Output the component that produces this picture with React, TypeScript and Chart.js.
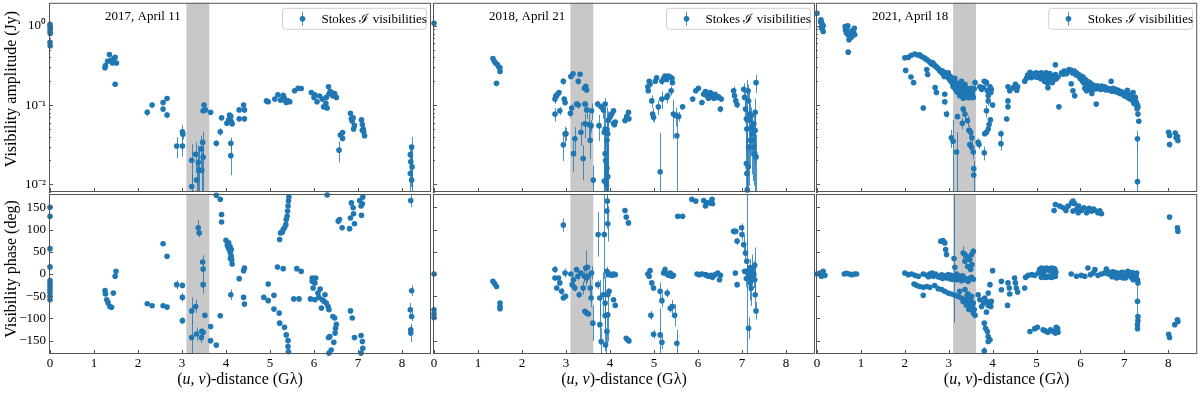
import { useEffect, useRef } from 'react';
import { Chart, registerables } from 'chart.js';

Chart.register(...registerables);

type Pt = [number, number, number]; // [uv-distance (Glambda), value, error]

const EPOCH_LABELS = ['2017, April 11', '2018, April 21', '2021, April 18'];
const LEGEND_LABEL = 'Stokes \u2110 visibilities';
const X_TICKS = [0, 1, 2, 3, 4, 5, 6, 7, 8];
const PHASE_TICKS = [-150, -100, -50, 0, 50, 100, 150];
const AMP_TICKS = [
  0.008, 0.009, 0.01, 0.02, 0.03, 0.04, 0.05, 0.06, 0.07, 0.08, 0.09,
  0.1, 0.2, 0.3, 0.4, 0.5, 0.6, 0.7, 0.8, 0.9, 1,
];
const BAND: [number, number] = [3.1, 3.62];
const X_RANGE: [number, number] = [-0.023, 8.66];
const AMP_RANGE: [number, number] = [0.008, 1.955];
const PHASE_RANGE: [number, number] = [-180, 180];

const AMP_2017: Pt[] = [
  [0, 1.05, 0], [0, 0.98, 0], [0.005, 0.92, 0], [0, 0.86, 0], [0.005, 0.8, 0], [0, 0.62, 0], [0.005, 0.56, 0],
  [1.25, 0.296, 0.01], [1.26, 0.316, 0], [1.31, 0.358, 0], [1.35, 0.434, 0], [1.38, 0.365, 0], [1.42, 0.34, 0],
  [1.45, 0.387, 0], [1.48, 0.4, 0], [1.51, 0.34, 0], [1.48, 0.183, 0],
  [2.21, 0.081, 0.008], [2.32, 0.1, 0.008], [2.57, 0.108, 0.008], [2.57, 0.089, 0.006], [2.66, 0.121, 0.008], [2.66, 0.075, 0.007],
  [2.88, 0.0304, 0.009], [3.01, 0.0304, 0.008], [3.01, 0.046, 0.01], [3.02, 0.043, 0.006],
  [3.22, 0.0201, 0.012], [3.22, 0.0094, 0.004], [3.31, 0.024, 0.01], [3.33, 0.0113, 0.008], [3.37, 0.019, 0.012],
  [3.39, 0.015, 0.012], [3.44, 0.028, 0.013], [3.47, 0.034, 0.012], [3.48, 0.022, 0.014], [3.45, 0.015, 0.01],
  [3.48, 0.085, 0], [3.5, 0.1, 0], [3.53, 0.087, 0], [3.65, 0.081, 0],
  [3.78, 0.033, 0.003], [3.87, 0.046, 0.005], [3.9, 0.069, 0.003], [4.02, 0.059, 0], [4.06, 0.065, 0], [4.08, 0.075, 0],
  [4.11, 0.072, 0], [4.14, 0.058, 0], [4.12, 0.062, 0], [4.11, 0.033, 0.006], [4.11, 0.023, 0.01], [4.3, 0.067, 0],
  [4.3, 0.087, 0], [4.4, 0.1, 0], [4.42, 0.087, 0.006], [4.42, 0.067, 0],
  [4.92, 0.113, 0], [4.96, 0.11, 0], [5.11, 0.119, 0], [5.18, 0.135, 0], [5.24, 0.115, 0], [5.3, 0.133, 0], [5.34, 0.115, 0],
  [5.37, 0.108, 0], [5.41, 0.113, 0], [5.45, 0.11, 0], [5.28, 0.12, 0], [5.32, 0.125, 0],
  [5.56, 0.152, 0], [5.64, 0.163, 0], [5.71, 0.162, 0],
  [5.94, 0.144, 0], [6.0, 0.125, 0], [6.02, 0.135, 0], [6.07, 0.11, 0], [6.13, 0.13, 0], [6.19, 0.119, 0], [6.22, 0.095, 0],
  [6.27, 0.105, 0], [6.3, 0.092, 0], [6.33, 0.17, 0], [6.34, 0.138, 0], [6.37, 0.148, 0], [6.43, 0.13, 0], [6.47, 0.14, 0],
  [6.51, 0.125, 0], [6.4, 0.144, 0], [6.28, 0.125, 0],
  [6.57, 0.027, 0.008], [6.6, 0.042, 0.004], [6.65, 0.045, 0.003], [6.65, 0.038, 0.003],
  [6.83, 0.079, 0.004], [6.85, 0.067, 0.004], [6.87, 0.0625, 0.004], [6.89, 0.069, 0], [6.9, 0.05, 0.004], [6.92, 0.055, 0],
  [7.08, 0.065, 0], [7.1, 0.057, 0], [7.12, 0.05, 0], [7.13, 0.046, 0], [7.15, 0.041, 0], [7.1, 0.048, 0],
  [8.19, 0.0237, 0.008], [8.2, 0.0193, 0.01], [8.22, 0.0295, 0.01], [8.23, 0.0166, 0.008], [8.19, 0.0137, 0.008], [8.22, 0.0113, 0.008],
];

const PHASE_2017: Pt[] = [
  [0, 150, 0], [0, 130, 0], [0, 57, 0], [0, 16, 0], [0, -15, 0], [0, -22, 0], [0, -28, 0], [0, -35, 0], [0, -42, 0], [0, -50, 0], [0, -58, 0],
  [1.25, -37, 0], [1.26, -45, 0], [1.29, -58, 0], [1.32, -65, 0], [1.36, -73, 0], [1.4, -75, 0], [1.44, -43, 0], [1.48, -5, 0], [1.5, 6, 0],
  [2.21, -67, 5], [2.32, -71.5, 0], [2.57, 68, 0], [2.66, 40, 0], [2.57, -71.5, 0], [2.66, -74.5, 0],
  [2.88, -24, 10], [3.01, -25.6, 6], [3.01, -52.7, 10], [3.01, -105, 8],
  [3.22, -83, 30], [3.22, -143, 40], [3.31, -73, 15], [3.33, -135, 15], [3.37, 104, 18], [3.39, 92.5, 10], [3.44, -143, 12],
  [3.47, 27, 15], [3.48, 11, 15], [3.48, -24, 20], [3.52, -93, 0], [3.48, -131, 8], [3.45, -129, 6],
  [3.65, -118, 0], [3.65, -150, 0], [3.78, -160, 0], [3.78, 177, 0], [3.87, 168, 0], [3.9, 134, 0], [3.9, 117, 0], [3.87, -94, 6],
  [4.0, 76, 0], [4.03, 65, 0], [4.05, 60, 0], [4.07, 55, 0], [4.09, 62, 0], [4.1, 47, 0], [4.12, 40, 0], [4.13, 32, 0],
  [4.14, 22.6, 0], [4.06, 70, 0], [4.12, 55, 0], [4.1, 35, 0],
  [4.11, -46.6, 12], [4.3, -10.5, 0], [4.4, 7.5, 0], [4.42, 13.5, 0], [4.4, -52.7, 0], [4.42, -67.7, 0],
  [4.86, -52.7, 0], [4.96, -22.6, 0], [4.96, -60, 0], [5.09, -48, 0], [5.09, -79, 0], [5.17, 15.8, 0], [5.21, -88, 0],
  [5.22, -110.6, 0], [5.3, 12, 0], [5.33, -120, 0], [5.37, -137, 0], [5.41, -150, 0], [5.41, -163, 0], [5.42, -175, 0],
  [5.22, 77.5, 0], [5.24, 92.5, 0], [5.28, 94, 0], [5.33, 104, 0], [5.36, 111, 0], [5.37, 122.6, 0], [5.39, 130, 0],
  [5.4, 141.5, 0], [5.41, 153, 0], [5.42, 164, 0], [5.43, 173, 0], [5.3, 100, 0],
  [5.54, -56, 0], [5.66, -56, 0], [5.61, 12, 0], [5.71, 6, 0],
  [5.92, -56, 0], [6.02, -58, 0], [5.96, -9, 0], [5.98, -31.6, 0], [5.96, -16.5, 0], [6.04, -9, 0], [6.02, -20, 0], [6.09, -43, 0],
  [6.11, -52.7, 0], [6.14, -34, 0], [6.19, -58, 0], [6.23, -61.7, 0], [6.25, -46.6, 0], [6.28, -65.5, 0], [6.32, -73, 0],
  [6.34, -80.5, 0], [6.17, -76.7, 0], [6.43, -95.6, 0], [6.47, -99, 0], [6.51, -113, 0], [6.49, -122, 0], [6.48, -133, 0],
  [6.36, -141, 0], [6.33, -143, 0], [6.45, -153.5, 0], [6.39, -171, 0], [6.34, -178, 0], [6.3, 177.6, 0],
  [6.55, 119, 8], [6.58, 122.6, 0], [6.64, 104, 6], [6.83, 126, 0], [6.85, 160, 0], [6.89, 149, 0], [6.9, 135.5, 0], [6.92, 113, 0],
  [6.81, 102, 0], [7.04, 165.5, 0], [7.07, 153, 0], [7.1, 158, 0], [7.11, 173, 0], [7.08, 132, 0],
  [6.83, -83, 0], [6.87, -99, 0], [6.92, -143, 5], [7.07, -138.5, 0], [7.1, -152, 0], [7.11, -167, 0], [7.07, -178, 0],
  [8.2, 165.5, 15], [8.22, -37.6, 12], [8.19, -80.5, 15], [8.22, -95.6, 10], [8.2, -125.7, 12], [8.2, -133, 20],
];

const AMP_2018: Pt[] = [
  [0, 1.08, 0],
  [1.34, 0.387, 0], [1.37, 0.358, 0], [1.4, 0.34, 0], [1.44, 0.325, 0], [1.47, 0.305, 0], [1.5, 0.296, 0], [1.5, 0.266, 0], [1.42, 0.188, 0],
  [2.75, 0.077, 0.015], [2.75, 0.119, 0.015], [2.77, 0.131, 0.01], [2.81, 0.137, 0.015], [2.84, 0.144, 0], [2.86, 0.085, 0.01],
  [2.94, 0.2, 0.02], [2.96, 0.119, 0.01], [2.98, 0.108, 0.01], [2.94, 0.0316, 0.012], [2.98, 0.0434, 0.01], [3.0, 0.0434, 0.008],
  [3.1, 0.079, 0.01], [3.13, 0.092, 0.01], [3.11, 0.23, 0], [3.16, 0.248, 0], [3.17, 0.0244, 0.01], [3.2, 0.0376, 0.015],
  [3.24, 0.103, 0.01], [3.28, 0.1, 0.01], [3.28, 0.2, 0.02], [3.32, 0.245, 0], [3.34, 0.0455, 0.015], [3.39, 0.0212, 0.01],
  [3.43, 0.058, 0.02], [3.42, 0.163, 0.01], [3.45, 0.173, 0], [3.47, 0.155, 0.01], [3.43, 0.103, 0.01], [3.47, 0.087, 0.02],
  [3.52, 0.057, 0.02], [3.55, 0.036, 0.015], [3.57, 0.055, 0.01], [3.58, 0.085, 0.02], [3.62, 0.0113, 0.006],
  [3.72, 0.103, 0.01], [3.75, 0.055, 0.02], [3.8, 0.095, 0.01], [3.85, 0.087, 0.02], [3.89, 0.103, 0.02], [3.87, 0.0455, 0.04],
  [3.89, 0.05, 0.04], [3.93, 0.049, 0.045], [3.95, 0.0434, 0.04], [3.93, 0.036, 0.03], [3.89, 0.0244, 0.02], [3.9, 0.02, 0.02],
  [3.93, 0.016, 0.02], [3.95, 0.0125, 0.02], [3.87, 0.011, 0.01], [3.92, 0.0099, 0.01], [3.96, 0.0645, 0.01], [4.0, 0.07, 0.005],
  [4.04, 0.077, 0], [4.08, 0.085, 0], [4.1, 0.0566, 0], [4.12, 0.061, 0], [4.08, 0.059, 0],
  [4.34, 0.0637, 0], [4.38, 0.0715, 0], [4.42, 0.081, 0], [4.43, 0.067, 0],
  [4.86, 0.17, 0.01], [4.87, 0.152, 0.01], [4.89, 0.2, 0.01], [4.91, 0.183, 0], [4.95, 0.113, 0.02], [4.97, 0.077, 0.015],
  [4.99, 0.07, 0.01], [5.03, 0.2, 0.01], [5.06, 0.221, 0], [5.1, 0.095, 0.02], [5.14, 0.0144, 0.03], [5.18, 0.119, 0.03],
  [5.18, 0.2, 0.02], [5.22, 0.218, 0.01], [5.25, 0.232, 0], [5.29, 0.21, 0], [5.29, 0.125, 0.02], [5.33, 0.232, 0],
  [5.37, 0.226, 0], [5.41, 0.218, 0], [5.42, 0.192, 0.01], [5.39, 0.152, 0.02], [5.31, 0.131, 0.01], [5.44, 0.077, 0.04],
  [5.5, 0.0735, 0.02], [5.52, 0.041, 0.04], [5.56, 0.072, 0.01], [5.65, 0.095, 0],
  [5.88, 0.119, 0], [5.95, 0.152, 0], [6.01, 0.163, 0], [6.09, 0.108, 0], [6.13, 0.137, 0], [6.17, 0.148, 0], [6.2, 0.131, 0],
  [6.24, 0.122, 0], [6.28, 0.144, 0], [6.32, 0.131, 0], [6.36, 0.122, 0], [6.39, 0.137, 0], [6.43, 0.125, 0], [6.47, 0.127, 0],
  [6.51, 0.089, 0.008], [6.53, 0.119, 0], [6.3, 0.14, 0], [6.22, 0.138, 0], [6.4, 0.13, 0],
  [6.81, 0.152, 0.02], [6.83, 0.131, 0.01], [6.86, 0.113, 0.01], [6.89, 0.101, 0.01], [7.04, 0.158, 0.03], [7.06, 0.125, 0.03],
  [7.08, 0.089, 0.03], [7.1, 0.067, 0.04], [7.11, 0.05, 0.04], [7.1, 0.0183, 0.02], [7.11, 0.0137, 0.02], [7.12, 0.0085, 0.2],
  [7.14, 0.152, 0.03], [7.15, 0.113, 0.03], [7.17, 0.077, 0.03], [7.19, 0.0637, 0.04], [7.21, 0.0526, 0.03], [7.23, 0.0434, 0.03],
  [7.24, 0.036, 0.025], [7.27, 0.0296, 0.02], [7.29, 0.0244, 0.02], [7.3, 0.081, 0.04], [7.32, 0.192, 0.05], [7.19, 0.036, 0.02],
  [7.15, 0.0296, 0.02], [7.27, 0.058, 0.03], [7.21, 0.0735, 0.02], [7.3, 0.0478, 0.03], [7.14, 0.0166, 0.015], [7.32, 0.0222, 0.02],
];

const PHASE_2018: Pt[] = [
  [0, 0, 0], [0, -80.5, 0], [0, -90, 0], [0, -98, 0],
  [1.34, -16.5, 0], [1.38, -22, 0], [1.42, -28, 0], [1.5, -65.5, 0], [1.5, -73, 0], [1.5, -78, 0],
  [2.75, 10, 8], [2.75, -9, 5], [2.79, -31.6, 6], [2.83, -9, 0], [2.86, -20, 0], [2.9, -39, 8], [2.94, -54, 6], [2.94, 110, 15],
  [2.98, 2.3, 10], [2.99, -50, 6],
  [3.11, 0, 0], [3.14, -24, 8], [3.17, -12.8, 10], [3.2, -31.6, 8], [3.24, 9.8, 5], [3.27, -5, 10], [3.3, -46.6, 8], [3.34, 2.3, 5],
  [3.39, -31.6, 15], [3.42, -5, 15], [3.45, 13.5, 40], [3.47, -9, 10], [3.49, 15, 0], [3.51, -5, 8], [3.43, -84, 5], [3.47, -88, 0],
  [3.51, -90, 0], [3.55, -31.6, 20], [3.57, -54, 20], [3.58, 2.3, 15], [3.61, -110.6, 40],
  [3.72, -24, 10], [3.73, 89, 50], [3.77, -54, 40], [3.77, -114, 45], [3.8, -152, 30], [3.85, -46.6, 50], [3.87, 89, 100],
  [3.89, -65.5, 60], [3.89, -94, 80], [3.9, -159.5, 30], [3.93, 6, 10], [3.93, 141.5, 40], [3.94, 164, 30], [3.95, 113, 40],
  [3.95, -92, 60], [3.96, -1.5, 0], [4.0, 0, 0], [4.04, -3, 0], [4.08, 0, 0], [4.12, -1.5, 0], [3.98, -39, 0], [3.95, -46.6, 10],
  [4.08, -58, 0], [4.12, -70.7, 0], [3.93, -129, 30],
  [4.34, 143, 0], [4.37, 128, 0], [4.42, 115, 0], [4.37, -144.5, 0], [4.4, -148, 0], [4.43, -150.5, 0],
  [4.86, 0, 0], [4.89, -5, 0], [4.91, 7.5, 0], [4.95, -20, 0], [4.99, -31.6, 5], [4.93, -93, 10], [4.99, -135.5, 10],
  [5.14, -39, 20], [5.14, -137, 60], [5.18, -60, 15], [5.18, -153.5, 15], [5.22, 2.3, 0], [5.25, 9.8, 8], [5.29, 0, 0],
  [5.33, -3, 0], [5.37, 2.3, 0], [5.41, -5, 0], [5.3, -43, 10], [5.37, -77, 10], [5.42, -73, 15], [5.47, -93, 25],
  [5.52, -155.7, 30], [5.44, -3, 0],
  [5.54, 130, 0], [5.65, 130, 0], [5.86, 168, 0], [5.95, 164, 0], [6.13, 165.5, 0], [6.17, 153, 0], [6.2, 160, 0], [6.28, 160, 0],
  [6.32, 168, 0], [6.33, 158, 0], [6.3, 163, 0],
  [5.98, 0, 0], [6.03, -1.5, 0], [6.09, 0, 0], [6.17, -1.5, 0], [6.2, -3, 0], [6.24, -5, 0], [6.3, -3, 0], [6.33, -7.5, 0],
  [6.39, -1.5, 0], [6.45, 2.3, 0], [6.49, -12.8, 0], [6.51, -3, 0],
  [6.81, 96, 8], [6.86, 96, 0], [6.89, 74, 8], [6.85, 2, 0], [6.89, -24, 6], [6.99, 104, 10], [7.0, 89, 15], [7.04, 66, 20],
  [7.08, 47, 20], [7.11, 28.6, 20], [7.11, 6, 200], [7.14, 0, 20], [7.17, -9, 30], [7.19, -20, 40], [7.21, -31.6, 40],
  [7.23, 13.5, 30], [7.27, -1.5, 30], [7.29, -12.8, 40], [7.3, -46.6, 30], [7.32, -83, 20], [7.15, -122, 25], [7.06, 6, 0],
  [7.1, -10, 20], [7.19, 13.5, 20], [7.24, 2.3, 20], [7.29, 19.6, 40], [7.21, -3, 20],
];

const AMP_2021: Pt[] = [
  [0, 1.44, 0], [0.09, 1.19, 0], [0.1, 1.1, 0], [0.12, 1.05, 0], [0.14, 1.0, 0], [0.1, 0.95, 0], [0.14, 0.85, 0], [0.08, 1.12, 0], [0.12, 0.92, 0],
  [0.64, 0.98, 0], [0.65, 0.89, 0], [0.67, 0.81, 0], [0.7, 1.0, 0], [0.71, 0.77, 0], [0.75, 0.74, 0], [0.77, 0.81, 0], [0.8, 0.865, 0],
  [0.85, 0.93, 0], [0.86, 0.77, 0], [0.71, 0.466, 0], [0.83, 0.85, 0], [0.73, 0.67, 0], [0.68, 0.92, 0], [0.78, 0.72, 0],
  [2.0, 0.395, 0], [2.08, 0.4, 0], [2.15, 0.425, 0], [2.23, 0.442, 0], [2.3, 0.425, 0], [2.38, 0.41, 0], [2.44, 0.395, 0],
  [2.5, 0.377, 0], [2.55, 0.358, 0], [2.61, 0.331, 0], [2.67, 0.318, 0], [2.72, 0.3, 0], [2.78, 0.281, 0], [2.82, 0.263, 0],
  [2.87, 0.249, 0], [2.93, 0.24, 0], [2.99, 0.221, 0], [3.05, 0.2, 0], [3.1, 0.186, 0], [3.16, 0.174, 0], [3.22, 0.163, 0],
  [3.28, 0.154, 0], [3.33, 0.148, 0], [3.38, 0.14, 0], [3.44, 0.135, 0], [3.5, 0.131, 0], [3.56, 0.125, 0], [3.25, 0.174, 0],
  [3.37, 0.183, 0], [3.43, 0.158, 0], [3.52, 0.163, 0], [3.29, 0.2, 0], [2.99, 0.256, 0], [3.14, 0.218, 0], [3.18, 0.15, 0],
  [3.25, 0.131, 0], [3.33, 0.122, 0], [3.6, 0.192, 0.02], [2.64, 0.34, 0], [2.7, 0.31, 0], [2.76, 0.29, 0], [2.85, 0.27, 0],
  [2.9, 0.23, 0], [2.96, 0.235, 0], [3.02, 0.21, 0], [3.08, 0.205, 0], [3.12, 0.19, 0], [3.2, 0.178, 0], [3.3, 0.165, 0],
  [3.4, 0.15, 0], [3.46, 0.145, 0], [3.54, 0.14, 0], [3.35, 0.135, 0], [3.48, 0.125, 0],
  [2.62, 0.345, 0], [2.66, 0.325, 0], [2.74, 0.295, 0], [2.8, 0.27, 0], [2.86, 0.255, 0], [2.9, 0.26, 0], [2.95, 0.245, 0],
  [3.0, 0.225, 0], [3.04, 0.23, 0], [3.08, 0.19, 0], [3.12, 0.2, 0], [3.15, 0.185, 0], [3.18, 0.19, 0], [3.21, 0.17, 0],
  [3.24, 0.16, 0], [3.27, 0.17, 0], [3.3, 0.15, 0], [3.34, 0.16, 0], [3.36, 0.15, 0], [3.39, 0.165, 0], [3.42, 0.145, 0],
  [3.45, 0.16, 0], [3.47, 0.14, 0], [3.5, 0.15, 0], [3.53, 0.14, 0], [3.58, 0.16, 0], [3.45, 0.125, 0], [3.4, 0.128, 0],
  [3.3, 0.14, 0], [3.2, 0.145, 0], [3.15, 0.16, 0], [3.1, 0.17, 0], [2.34, 0.43, 0], [2.47, 0.385, 0], [2.58, 0.345, 0],
  [2.02, 0.274, 0], [2.14, 0.226, 0], [2.2, 0.192, 0], [2.5, 0.281, 0], [2.52, 0.243, 0], [2.69, 0.166, 0], [2.72, 0.144, 0],
  [2.91, 0.137, 0], [2.91, 0.11, 0.01], [2.95, 0.077, 0.008], [2.42, 0.092, 0.008], [3.06, 0.0387, 0.01], [3.1, 0.035, 0.03],
  [3.18, 0.0256, 0.02], [3.2, 0.0715, 0], [3.31, 0.059, 0.01], [3.33, 0.089, 0.01], [3.37, 0.077, 0.01], [3.43, 0.0637, 0.01],
  [3.46, 0.048, 0.008], [3.5, 0.0455, 0.006], [3.53, 0.0387, 0.005], [3.48, 0.0318, 0.005], [3.52, 0.0296, 0.005],
  [3.56, 0.0256, 0.005], [3.57, 0.0158, 0.004], [3.57, 0.0131, 0.005], [3.67, 0.034, 0.004], [3.69, 0.0318, 0.004],
  [3.81, 0.025, 0.005], [3.82, 0.0434, 0], [3.86, 0.0455, 0], [3.9, 0.05, 0], [3.92, 0.057, 0], [3.95, 0.065, 0],
  [4.0, 0.1, 0.008], [3.9, 0.113, 0.015], [3.86, 0.085, 0.015], [3.9, 0.131, 0], [3.79, 0.166, 0], [3.86, 0.192, 0.02],
  [3.94, 0.17, 0], [3.97, 0.158, 0], [3.71, 0.17, 0], [3.75, 0.158, 0], [3.81, 0.2, 0], [3.88, 0.152, 0], [3.96, 0.144, 0],
  [4.19, 0.0434, 0.005], [4.19, 0.0326, 0.006], [4.32, 0.0668, 0.005], [4.35, 0.113, 0.005], [4.35, 0.095, 0.005],
  [4.35, 0.17, 0], [4.39, 0.152, 0], [4.47, 0.166, 0], [4.52, 0.183, 0], [4.55, 0.154, 0], [4.57, 0.17, 0],
  [4.73, 0.2, 0], [4.77, 0.218, 0], [4.82, 0.232, 0], [4.85, 0.26, 0], [4.88, 0.221, 0], [4.94, 0.24, 0], [4.99, 0.256, 0],
  [5.04, 0.24, 0], [5.07, 0.221, 0], [5.11, 0.256, 0], [5.15, 0.232, 0], [5.19, 0.249, 0], [5.23, 0.218, 0], [5.26, 0.24, 0],
  [5.3, 0.2, 0], [5.33, 0.226, 0], [5.36, 0.192, 0], [5.4, 0.21, 0], [5.43, 0.243, 0], [5.43, 0.322, 0], [5.26, 0.166, 0],
  [5.49, 0.226, 0], [5.51, 0.095, 0], [5.0, 0.225, 0], [5.1, 0.215, 0], [5.2, 0.205, 0], [5.3, 0.25, 0], [5.38, 0.235, 0],
  [4.8, 0.24, 0], [4.9, 0.25, 0], [4.95, 0.23, 0], [5.05, 0.25, 0], [5.12, 0.235, 0], [5.17, 0.22, 0], [5.22, 0.255, 0],
  [5.28, 0.23, 0], [5.35, 0.21, 0], [5.41, 0.225, 0], [5.45, 0.215, 0], [5.18, 0.2, 0], [5.25, 0.19, 0], [5.32, 0.205, 0],
  [5.57, 0.256, 0], [5.63, 0.268, 0], [5.68, 0.249, 0], [5.74, 0.281, 0], [5.79, 0.274, 0], [5.86, 0.268, 0], [5.91, 0.256, 0],
  [5.96, 0.243, 0], [6.01, 0.232, 0], [6.06, 0.226, 0], [6.11, 0.21, 0], [6.16, 0.2, 0], [6.21, 0.192, 0], [6.25, 0.183, 0],
  [6.31, 0.174, 0], [6.36, 0.17, 0], [6.4, 0.162, 0], [6.46, 0.158, 0], [5.79, 0.186, 0], [5.83, 0.152, 0], [5.87, 0.131, 0],
  [6.1, 0.163, 0], [6.14, 0.152, 0], [6.21, 0.158, 0], [6.26, 0.14, 0], [6.36, 0.103, 0], [6.0, 0.215, 0], [6.05, 0.2, 0],
  [6.15, 0.18, 0], [6.3, 0.16, 0], [5.6, 0.245, 0], [5.7, 0.26, 0], [5.82, 0.255, 0], [5.9, 0.24, 0], [5.98, 0.225, 0],
  [6.04, 0.215, 0], [6.08, 0.19, 0], [6.12, 0.195, 0], [6.18, 0.185, 0], [6.24, 0.17, 0], [6.28, 0.18, 0], [6.34, 0.16, 0],
  [6.38, 0.175, 0], [6.44, 0.165, 0],
  [6.48, 0.174, 0], [6.55, 0.17, 0], [6.61, 0.163, 0], [6.67, 0.154, 0], [6.7, 0.2, 0], [6.74, 0.163, 0], [6.8, 0.158, 0],
  [6.86, 0.154, 0], [6.92, 0.148, 0], [6.97, 0.144, 0], [7.02, 0.14, 0], [7.07, 0.154, 0], [7.1, 0.137, 0], [7.13, 0.131, 0],
  [7.16, 0.125, 0], [7.2, 0.119, 0], [7.24, 0.113, 0], [7.27, 0.108, 0], [7.3, 0.1, 0], [7.31, 0.094, 0], [7.31, 0.077, 0],
  [7.33, 0.0625, 0.005], [7.3, 0.0376, 0.01], [7.3, 0.0108, 0.03], [7.08, 0.125, 0], [7.2, 0.144, 0], [7.25, 0.125, 0],
  [7.0, 0.13, 0], [7.12, 0.12, 0], [7.22, 0.105, 0], [6.5, 0.16, 0], [6.58, 0.155, 0], [6.65, 0.16, 0], [6.72, 0.15, 0],
  [6.78, 0.15, 0], [6.84, 0.145, 0], [6.9, 0.14, 0], [6.95, 0.138, 0], [7.05, 0.13, 0], [7.15, 0.125, 0], [7.18, 0.115, 0],
  [7.22, 0.12, 0], [7.26, 0.11, 0], [7.28, 0.1, 0], [7.29, 0.09, 0],
  [8.01, 0.0455, 0.003], [8.03, 0.0414, 0.003], [8.03, 0.0318, 0.003], [8.16, 0.0443, 0], [8.21, 0.0402, 0.003],
  [8.22, 0.0358, 0.003], [8.18, 0.0387, 0],
];

const PHASE_2021: Pt[] = [
  [0, 0, 0], [0.07, 2, 0], [0.1, -5, 0], [0.14, 6, 0], [0.18, -3, 0], [0.12, 0, 0],
  [0.62, 0, 0], [0.67, 1.5, 0], [0.73, 0, 0], [0.79, -1.5, 0], [0.85, 0, 0], [0.9, 0, 0],
  [2.0, 2.3, 0], [2.08, -1.5, 0], [2.15, 0, 0], [2.23, -3, 0], [2.31, -5, 0], [2.42, 0, 0], [2.5, -3, 0], [2.57, 0, 0],
  [2.65, -5, 0], [2.72, -3, 0], [2.8, -7.5, 0], [2.88, -5, 0], [2.95, -9, 0], [3.03, -10.5, 0], [3.1, -7.5, 0], [3.18, -12.8, 0],
  [3.25, -5, 0], [3.29, -15, 0], [3.37, -10.5, 0], [3.44, -16.5, 0], [3.52, -7.5, 0], [3.18, 0, 0], [2.99, -1.5, 0],
  [2.6, -2, 0], [2.7, 0, 0], [2.84, -2, 0], [2.92, -4, 0], [3.0, -6, 0], [3.06, -3, 0], [3.14, -9, 0],
  [2.54, -6, 0], [2.62, 2, 0], [2.76, -6, 0], [2.86, -10, 0], [2.97, -4, 0], [3.08, -12, 0], [3.22, -8, 0], [3.32, -4, 0],
  [3.4, -14, 0], [3.47, -10, 0], [3.56, -12, 0],
  [2.21, -22.6, 0], [2.27, -25.6, 0], [2.34, -28, 0], [2.42, -30, 0], [2.5, -28, 0], [2.57, -30, 0], [2.68, -26, 0],
  [2.76, -33, 0], [2.84, -35, 0], [2.91, -39, 0], [2.99, -43, 0], [3.06, -45, 0], [3.14, -48, 0], [3.22, -50.4, 0],
  [3.29, -54, 0], [3.37, -58, 0], [3.43, -65.5, 0], [3.48, -73, 0], [3.52, -80.5, 0], [3.56, -88, 0], [3.6, -93, 0],
  [3.5, -58, 0], [3.56, -65.5, 0], [3.44, -45, 0], [3.37, -35, 0], [3.25, -39, 0], [3.4, -70, 0], [3.46, -80, 0],
  [3.33, -62, 0], [3.52, -50, 0], [3.45, -55, 0], [3.42, -48, 0], [3.48, -62, 0], [3.54, -72, 0], [3.58, -80, 0],
  [2.42, -48, 5], [2.82, 73.7, 0], [2.87, 75, 0], [2.91, 70, 0], [2.93, 55, 0], [2.95, 43.6, 5], [3.12, 35, 145],
  [3.14, 15, 0], [3.33, 47.4, 15], [3.37, 43.6, 0], [3.43, 37.6, 0], [3.52, 43.6, 0], [3.56, 51, 8], [3.48, 32.4, 0],
  [3.53, 21, 0], [3.5, 10, 0], [3.37, 28.6, 0], [3.43, 17, 0],
  [3.67, -46.6, 0], [3.71, -58, 0], [3.75, -73, 0], [3.79, -65.5, 0], [3.82, -54, 0], [3.86, -61.7, 0], [3.9, -70.7, 0],
  [3.94, -65.5, 0], [3.96, -73, 0], [3.97, -61.7, 0], [3.94, -24, 5], [3.9, -43, 5], [3.86, -85.8, 0], [4.0, 7.5, 0],
  [3.81, -110.6, 0], [3.84, -122, 0], [3.88, -129.4, 0], [3.9, -140.7, 0], [3.94, -148, 0], [3.9, -152, 0], [3.81, -173, 8],
  [4.2, -16.5, 5], [4.2, -35.4, 5], [4.35, -20, 0], [4.38, -31.6, 0], [4.39, -45, 0], [4.5, -9, 0], [4.52, -20, 0],
  [4.54, -31.6, 0], [4.57, -40.6, 0], [4.34, -70.7, 0], [4.73, -31.6, 0],
  [4.75, -7.5, 0], [4.81, -3, 0], [4.89, -1.5, 0], [4.96, -3, 0], [5.04, 2.3, 0], [5.07, 9.8, 0], [5.11, 13.5, 0], [5.15, 0, 0],
  [5.19, 7.5, 0], [5.23, 13.5, 0], [5.26, -5, 0], [5.3, 7.5, 0], [5.34, 13.5, 0], [5.38, 2.3, 0], [5.42, 9.8, 0],
  [5.43, -5, 0], [5.34, -7.5, 0], [5.2, -7.5, 0], [5.11, -7.5, 0], [5.13, 10, 0], [5.17, 12, 0], [5.21, 10, 0],
  [5.25, 12, 0], [5.28, 11, 0], [5.32, 11, 0], [5.36, 10, 0], [5.4, 12, 0], [5.17, -6, 0], [5.24, -7, 0], [5.28, -6, 0],
  [5.38, -6, 0], [5.44, 4, 0],
  [4.85, -129.4, 0], [4.96, -123, 0], [5.02, -120, 0], [5.15, -125.7, 0], [5.2, -128, 0], [5.26, -131, 0], [5.32, -125.7, 0],
  [5.38, -129.4, 0], [5.43, -133, 0], [5.48, -123, 0], [5.49, -131, 0], [5.45, -120, 0],
  [5.4, 143, 0], [5.43, 156.5, 0], [5.53, 152.7, 0], [5.61, 149, 0], [5.67, 143, 0], [5.72, 152.7, 0], [5.8, 160, 0],
  [5.83, 141.5, 0], [5.87, 158, 0], [5.91, 145, 0], [5.96, 152.7, 0], [6.02, 143, 0], [6.08, 149, 0], [6.14, 137.7, 0],
  [6.17, 145, 0], [6.25, 141.5, 0], [6.33, 143, 0], [6.4, 137.7, 0], [6.48, 135.5, 0], [5.95, 137.7, 0], [5.83, 164, 0],
  [6.2, 148, 0], [6.3, 146, 0], [6.44, 142, 0],
  [5.79, 0, 0], [5.91, -5, 0], [6.02, -3, 0], [6.1, -5, 0], [6.17, 13.5, 0], [6.23, -1.5, 0], [6.29, 2.3, 0], [6.33, 9.8, 0],
  [6.4, -3, 0], [6.48, 0, 0], [6.55, 2.3, 0], [6.63, 0, 0], [6.7, -1.5, 0], [6.78, 0, 0], [6.86, -3, 0], [6.93, -3, 0],
  [7.01, -5, 0], [7.08, -3, 0], [7.16, -7.5, 0], [7.24, -9, 0], [7.3, -12.8, 0], [7.31, -20, 0], [6.59, 11, 0], [6.82, -9, 0],
  [6.97, -9, 0], [7.08, 6, 0], [7.2, -12.8, 0], [7.27, -3, 0], [7.12, 2, 0], [6.9, 2, 0], [7.05, 0, 0], [7.22, -4, 0],
  [6.66, 4, 0], [6.74, 5, 0], [6.8, 3, 0], [6.84, -6, 0], [6.95, 4, 0], [7.0, 2, 0], [7.14, -2, 0], [7.18, 3, 0],
  [7.26, -12, 0], [7.28, 2, 0], [6.72, -6, 0], [6.88, -7, 0], [7.03, -9, 0],
  [7.3, -61.7, 55], [7.31, -95.6, 0], [7.31, -105, 0], [7.3, -114, 0], [7.3, -123, 0],
  [8.03, 128, 0], [8.21, 104, 0], [8.22, 96, 0], [8.01, -135.5, 0], [8.03, -143, 0], [8.15, -114, 0], [8.21, -103, 0], [8.22, -107, 0],
];

const PANELS: Pt[][][] = [
  [AMP_2017, AMP_2018, AMP_2021],
  [PHASE_2017, PHASE_2018, PHASE_2021],
];

const FONT = "'Liberation Serif', 'Times New Roman', serif";
const BLUE = '#1f77b4';
const BAR = 'rgba(31,119,180,0.8)';
const FRAME = '#555555';

const COL_LEFT = [49, 433, 816];
const PLOT_W = 382;
const ROW_TOP = [1, 194];
const ROW_H = [191, 160];
const Y_TITLE_CENTER = [89, 269];

function isPow10(v: number) {
  const l = Math.log10(v);
  return Math.abs(l - Math.round(l)) < 1e-9;
}

function ampLabel(v: number) {
  if (!isPow10(v)) return '';
  const e = Math.round(Math.log10(v));
  if (e === 0) return '10\u2070';
  if (e === -1) return '10\u207B\u00B9';
  if (e === -2) return '10\u207B\u00B2';
  return '';
}

function Panel({ row, col }: { row: number; col: number }) {
  const ref = useRef<HTMLCanvasElement>(null);
  const padL = col === 0 ? 49 : 8;
  const padR = col === 2 ? 2 : 8;
  const padT = row === 0 ? 1 : 4;
  const plotBottom = ROW_TOP[row] + ROW_H[row];
  const padB = row === 0 ? 4 : 393 - plotBottom;
  const cw = PLOT_W + padL + padR;
  const ch = ROW_H[row] + padT + padB;
  const left = COL_LEFT[col] - padL;
  const top = ROW_TOP[row] - padT;

  useEffect(() => {
    const data = PANELS[row][col];
    const deco = {
      id: 'deco',
      beforeDatasetsDraw(chart: any) {
        const { ctx, chartArea: a, scales } = chart;
        const xs = scales.x;
        const ys = scales.y;
        ctx.save();
        const b0 = xs.getPixelForValue(BAND[0]);
        const b1 = xs.getPixelForValue(BAND[1]);
        ctx.fillStyle = '#c8c8c8';
        ctx.fillRect(b0, a.top, b1 - b0, a.bottom - a.top);
        ctx.beginPath();
        ctx.rect(a.left, a.top, a.right - a.left, a.bottom - a.top);
        ctx.clip();
        ctx.strokeStyle = BAR;
        ctx.lineWidth = 1;
        ctx.beginPath();
        for (const [x, y, e] of data) {
          if (!e) continue;
          const px = Math.round(xs.getPixelForValue(x)) + 0.5;
          const lo = row === 0 ? Math.max(y - e, 1e-5) : y - e;
          ctx.moveTo(px, ys.getPixelForValue(lo));
          ctx.lineTo(px, ys.getPixelForValue(y + e));
        }
        ctx.stroke();
        ctx.restore();
      },
      afterDatasetsDraw(chart: any) {
        const { ctx, chartArea: a, scales } = chart;
        const xs = scales.x;
        const ys = scales.y;
        ctx.save();
        ctx.strokeStyle = FRAME;
        ctx.lineWidth = 1;
        ctx.beginPath();
        for (const v of X_TICKS) {
          const px = Math.round(xs.getPixelForValue(v)) + 0.5;
          ctx.moveTo(px, a.bottom);
          ctx.lineTo(px, a.bottom - 4);
        }
        const yt = row === 0 ? AMP_TICKS : PHASE_TICKS;
        for (const v of yt) {
          const major = row === 1 || isPow10(v);
          const py = Math.round(ys.getPixelForValue(v)) + 0.5;
          ctx.moveTo(a.left, py);
          ctx.lineTo(a.left + (major ? 4 : 2), py);
        }
        ctx.stroke();
        ctx.strokeRect(a.left + 0.5, a.top + 0.5, a.right - a.left - 1, a.bottom - a.top - 1);

        ctx.fillStyle = '#000';
        if (row === 0) {
          ctx.font = `13px ${FONT}`;
          ctx.textAlign = 'left';
          ctx.textBaseline = 'middle';
          ctx.fillText(EPOCH_LABELS[col], a.left + 56, a.top + 14);
          const bw = 144;
          const bh = 21;
          const bx = a.right - 4.5 - bw;
          const by = a.top + 5.5;
          ctx.beginPath();
          ctx.roundRect(bx, by, bw, bh, 3);
          ctx.fillStyle = 'rgba(255,255,255,0.8)';
          ctx.fill();
          ctx.strokeStyle = '#d0d0d0';
          ctx.stroke();
          const mx = Math.round(bx + 19) + 0.5;
          const my = by + bh / 2;
          ctx.strokeStyle = BAR;
          ctx.beginPath();
          ctx.moveTo(mx, my - 7);
          ctx.lineTo(mx, my + 7);
          ctx.stroke();
          ctx.fillStyle = BLUE;
          ctx.beginPath();
          ctx.arc(mx, my, 2.8, 0, Math.PI * 2);
          ctx.fill();
          ctx.fillStyle = '#000';
          ctx.font = `13px ${FONT}`;
          ctx.textAlign = 'left';
          ctx.textBaseline = 'middle';
          ctx.fillText(LEGEND_LABEL, bx + 39, my + 0.5);
        } else {
          const parts: [string, boolean][] = [
            ['(', false], ['u', true], [', ', false], ['v', true], [')-distance (G\u03BB)', false],
          ];
          const size = 16;
          let total = 0;
          for (const [t, it] of parts) {
            ctx.font = `${it ? 'italic ' : ''}${size}px ${FONT}`;
            total += ctx.measureText(t).width;
          }
          let x = (a.left + a.right) / 2 - total / 2;
          const y = 380 - top;
          ctx.textAlign = 'left';
          ctx.textBaseline = 'middle';
          for (const [t, it] of parts) {
            ctx.font = `${it ? 'italic ' : ''}${size}px ${FONT}`;
            ctx.fillText(t, x, y);
            x += ctx.measureText(t).width;
          }
        }
        if (col === 0) {
          ctx.save();
          ctx.translate(12, Y_TITLE_CENTER[row] - top);
          ctx.rotate(-Math.PI / 2);
          ctx.font = `16px ${FONT}`;
          ctx.textAlign = 'center';
          ctx.textBaseline = 'middle';
          ctx.fillText(row === 0 ? 'Visibility amplitude (Jy)' : 'Visibility phase (deg)', 0, 0);
          ctx.restore();
        }
        ctx.restore();
      },
    };

    const tickFont = { family: FONT, size: 13 };
    const chart = new Chart(ref.current!, {
      type: 'scatter',
      data: {
        datasets: [
          {
            data: data.map(([x, y]) => ({ x, y })),
            pointRadius: 2.8,
            pointHoverRadius: 2.8,
            pointBackgroundColor: BLUE,
            pointBorderColor: BLUE,
            pointBorderWidth: 0,
            clip: 3,
          } as any,
        ],
      },
      options: {
        responsive: false,
        animation: false,
        events: [],
        layout: { padding: { left: 0, right: padR, top: padT, bottom: 0 } },
        plugins: { legend: { display: false }, tooltip: { enabled: false } },
        scales: {
          x: {
            type: 'linear',
            position: 'bottom',
            min: X_RANGE[0],
            max: X_RANGE[1],
            grid: { display: false, drawTicks: false },
            border: { display: false },
            ticks: {
              display: row === 1,
              autoSkip: false,
              maxRotation: 0,
              padding: 2,
              color: '#000',
              font: tickFont,
              callback: (v: any) => String(v),
            },
            afterBuildTicks: (s: any) => {
              s.ticks = X_TICKS.map((value) => ({ value }));
            },
            afterFit: (s: any) => {
              s.height = padB;
              s.paddingLeft = 0;
              s.paddingRight = 0;
            },
          },
          y: row === 0
            ? {
                type: 'logarithmic',
                position: 'left',
                min: AMP_RANGE[0],
                max: AMP_RANGE[1],
                grid: { display: false, drawTicks: false },
                border: { display: false },
                ticks: {
                  display: col === 0,
                  autoSkip: false,
                  padding: 3,
                  color: '#000',
                  font: tickFont,
                  callback: (v: any) => ampLabel(Number(v)),
                },
                afterBuildTicks: (s: any) => {
                  s.ticks = AMP_TICKS.map((value) => ({ value }));
                },
                afterFit: (s: any) => {
                  s.width = padL;
                  s.paddingTop = 0;
                  s.paddingBottom = 0;
                },
              }
            : {
                type: 'linear',
                position: 'left',
                min: PHASE_RANGE[0],
                max: PHASE_RANGE[1],
                grid: { display: false, drawTicks: false },
                border: { display: false },
                ticks: {
                  display: col === 0,
                  autoSkip: false,
                  padding: 3,
                  color: '#000',
                  font: tickFont,
                  callback: (v: any) => (Number(v) < 0 ? '\u2212' + Math.abs(Number(v)) : String(v)),
                },
                afterBuildTicks: (s: any) => {
                  s.ticks = PHASE_TICKS.map((value) => ({ value }));
                },
                afterFit: (s: any) => {
                  s.width = padL;
                  s.paddingTop = 0;
                  s.paddingBottom = 0;
                },
              },
        } as any,
      },
      plugins: [deco],
    });
    return () => chart.destroy();
  }, []);

  return (
    <canvas
      ref={ref}
      width={cw}
      height={ch}
      style={{ position: 'absolute', left, top, width: cw, height: ch }}
    />
  );
}

export default function App() {
  return (
    <div style={{ position: 'absolute', left: 0, top: 0, width: 1200, height: 393, background: '#fff', overflow: 'hidden' }}>
      {[0, 1].map((row) => [0, 1, 2].map((col) => <Panel key={`${row}-${col}`} row={row} col={col} />))}
    </div>
  );
}
